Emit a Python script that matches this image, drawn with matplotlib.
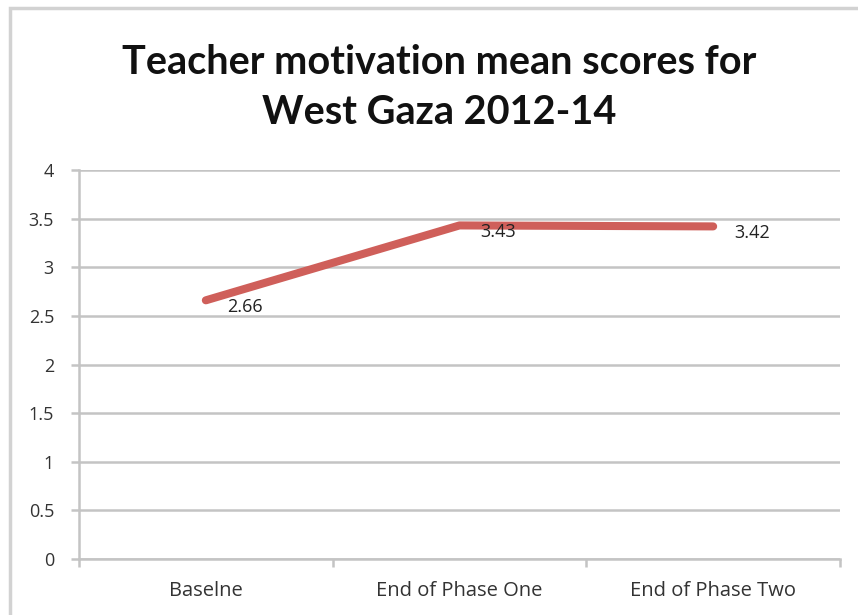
#!/usr/bin/env python
# -*- coding: utf-8 -*-

'''
Teacher motivation mean scores line chart (West Gaza 2012-14)
'''

import matplotlib
matplotlib.use("Agg")
import matplotlib.pyplot as plt
from matplotlib.patches import Rectangle
from matplotlib.ticker import FixedLocator

categories = ["Baselne", "End of Phase One", "End of Phase Two"]
scores = [2.66, 3.43, 3.42]
yticks = [0, 0.5, 1, 1.5, 2, 2.5, 3, 3.5, 4]

plt.rcParams['font.family'] = ['Open Sans', 'DejaVu Sans']

gridColor = '#C4C4C4'
lineColor = '#CF5F5A'
textColor = '#333333'

fig = plt.figure(figsize=(8.58, 6.15), dpi=100)
W, H = 858.0, 615.0

# outer chart frame
fig.patches.append(Rectangle((10 / W, -0.05), 1.2, (615 - 8) / H + 0.05,
                             transform=fig.transFigure, fill=False,
                             edgecolor='#D2D2D2', linewidth=2.5))

ax = fig.add_axes([79 / W, (615 - 559) / H, 761 / W, 389 / H])
x = list(range(len(categories)))
ax.plot(x, scores, color=lineColor, linewidth=5.8, solid_capstyle='round',
        solid_joinstyle='round', zorder=3)

for xi, v in zip(x, scores):
    ax.annotate("%.2f" % v, (xi, v), xytext=(21, -7), textcoords='offset pixels',
                ha='left', va='center', fontsize=13, color='#222222', zorder=4)

ax.set_xlim(-0.5, len(categories) - 0.5)
ax.set_ylim(0, 4)
ax.set_yticks(yticks)
ax.set_yticklabels(["%g" % t for t in yticks])
ax.set_xticks(x)
ax.set_xticklabels(categories)
ax.xaxis.set_minor_locator(FixedLocator([i - 0.5 for i in range(len(categories) + 1)]))

ax.tick_params(axis='x', which='major', length=0, pad=16, labelsize=14.5,
               labelcolor=textColor)
ax.tick_params(axis='x', which='minor', length=6, width=1.8, color=gridColor,
               direction='out')
ax.tick_params(axis='y', length=6, width=1.8, color=gridColor, pad=12,
               labelsize=13, labelcolor=textColor)

ax.grid(axis='y', color=gridColor, linewidth=1.8)
ax.set_axisbelow(True)
for side in ['top', 'right']:
    ax.spines[side].set_visible(False)
for side in ['left', 'bottom']:
    ax.spines[side].set_color(gridColor)
    ax.spines[side].set_linewidth(1.8)

fig.text(0.512, (615 - 62) / H, "Teacher motivation mean scores for",
         ha='center', va='center', fontsize=28.5, fontweight='bold',
         color='#111111', family=['Lato', 'DejaVu Sans'])
fig.text(0.512, (615 - 112) / H, "West Gaza 2012-14",
         ha='center', va='center', fontsize=28.5, fontweight='bold',
         color='#111111', family=['Lato', 'DejaVu Sans'])

fig.savefig("out.png", dpi=100)
